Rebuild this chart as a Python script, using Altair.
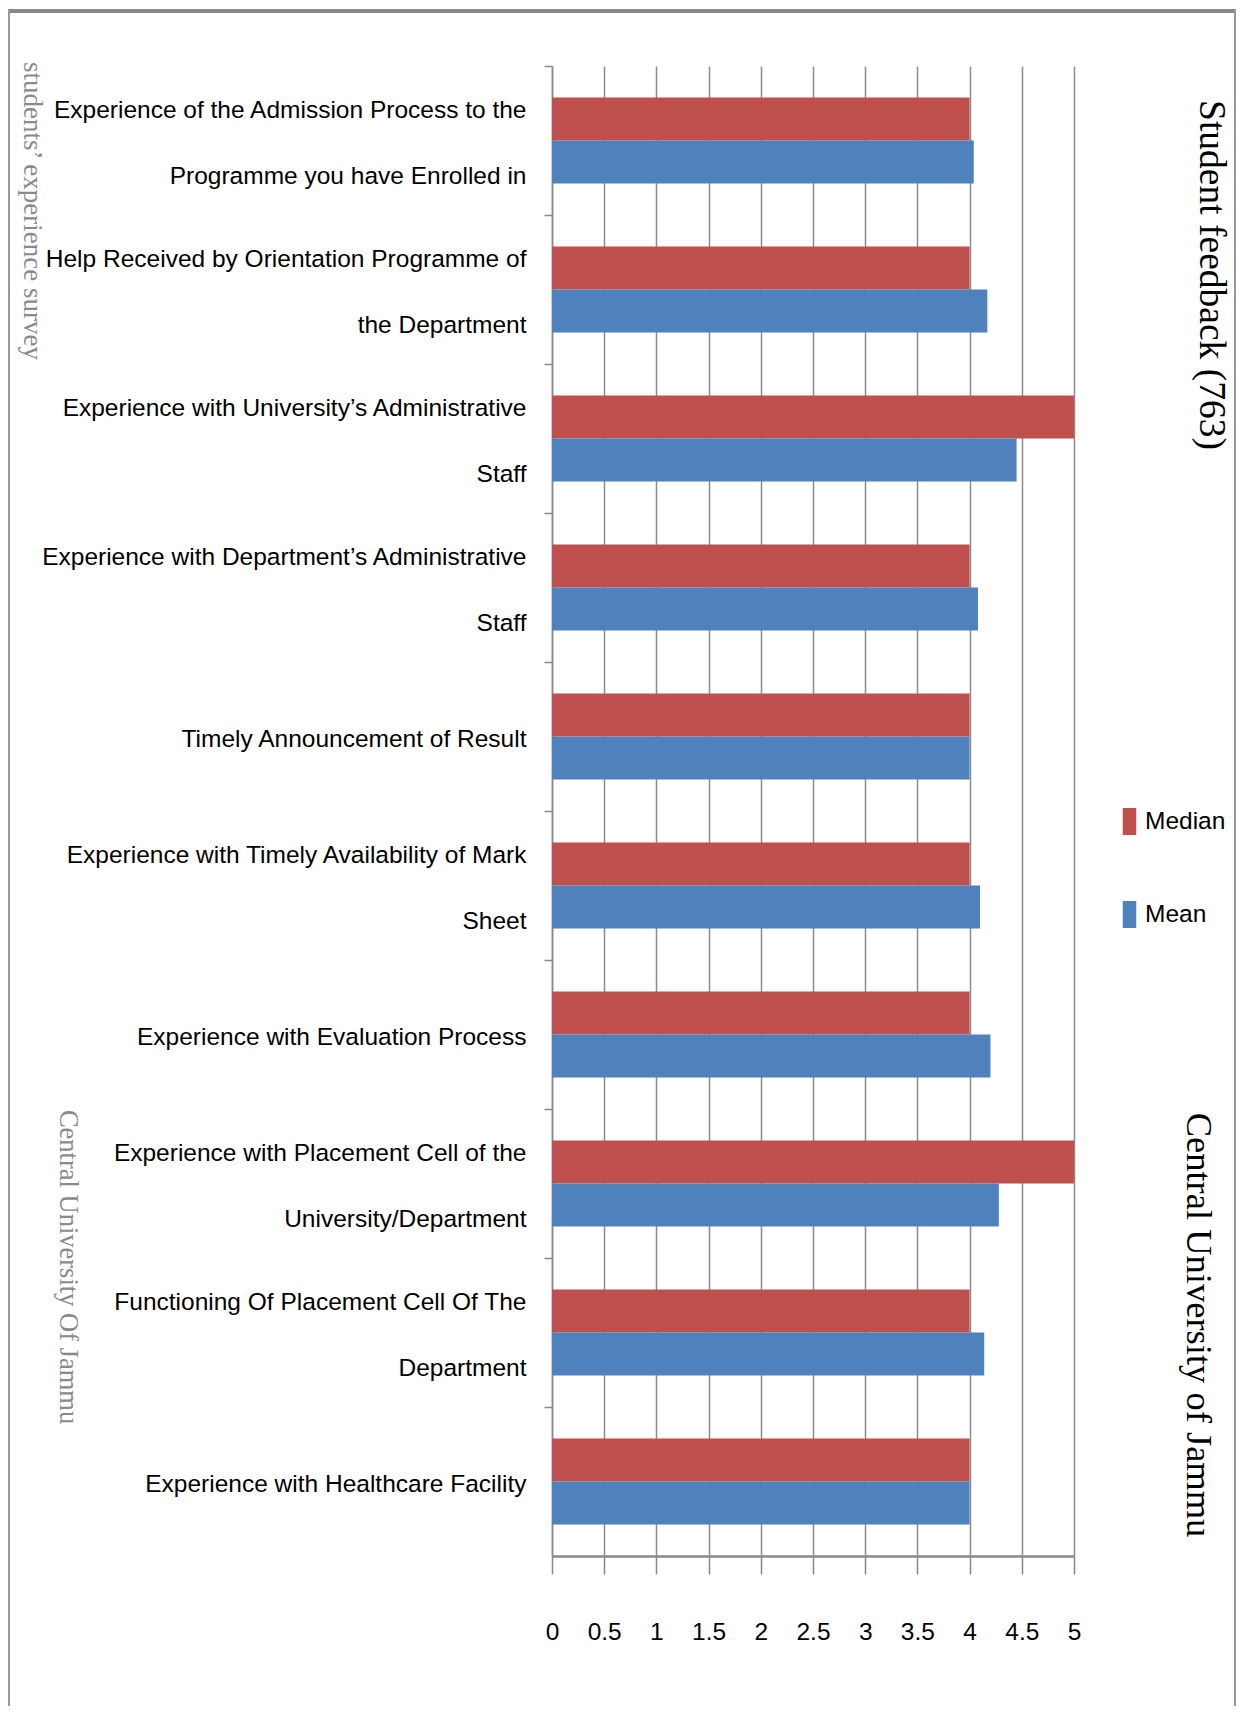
import altair as alt
import pandas as pd

categories = [
    "Experience of the Admission Process to the|Programme you have Enrolled in",
    "Help Received by Orientation Programme of|the Department",
    "Experience with University\u2019s Administrative|Staff",
    "Experience with Department\u2019s Administrative|Staff",
    "Timely Announcement of Result",
    "Experience with Timely Availability of Mark|Sheet",
    "Experience with Evaluation Process",
    "Experience with Placement Cell of the|University/Department",
    "Functioning Of Placement Cell Of The|Department",
    "Experience with Healthcare Facility",
]
median_vals = [4, 4, 5, 4, 4, 4, 4, 5, 4, 4]
mean_vals = [4.04, 4.17, 4.45, 4.08, 4.0, 4.10, 4.20, 4.28, 4.14, 4.0]
series = ["Median", "Mean"]
colors = ["#C0504D", "#4F81BD"]
x_ticks = [0, 0.5, 1, 1.5, 2, 2.5, 3, 3.5, 4, 4.5, 5]

rows = []
for c, md, mn in zip(categories, median_vals, mean_vals):
    rows.append({"category": c, "series": "Median", "value": md})
    rows.append({"category": c, "series": "Mean", "value": mn})
df = pd.DataFrame(rows)

LABEL_FONT = "Liberation Sans"
SERIF = "Liberation Serif"
FS = 24.5
LH = 66

bars = alt.Chart(df).mark_bar(stroke=None).encode(
    y=alt.Y(
        "category:N",
        sort=categories,
        title=None,
        scale=alt.Scale(paddingInner=0, paddingOuter=0),
        axis=alt.Axis(
            labelExpr="split(datum.label, '|')",
            labelFont=LABEL_FONT,
            labelFontSize=FS,
            labelColor="#000000",
            labelLimit=700,
            labelLineHeight=LH,
            labelPadding=18,
            labelAlign="right",
            labelBaseline="middle",
            labelOffset={
                "condition": {"test": "indexof(datum.value, '|') >= 0", "value": -LH / 2 + 3},
                "value": 3,
            },
            tickSize=8,
            tickColor="#888888",
            tickWidth=1.5,
            domainColor="#888888",
            domainWidth=1.5,
            bandPosition=0,
            grid=False,
        ),
    ),
    yOffset=alt.YOffset(
        "series:N",
        sort=series,
        scale=alt.Scale(paddingInner=0, paddingOuter=0.7326),
    ),
    x=alt.X(
        "value:Q",
        title=None,
        scale=alt.Scale(domain=[0, 5], nice=False),
        axis=alt.Axis(
            values=x_ticks,
            format="~g",
            labelFont=LABEL_FONT,
            labelFontSize=FS,
            labelColor="#000000",
            labelPadding=46,
            labelFlush=False,
            tickSize=18,
            tickColor="#888888",
            tickWidth=1.5,
            domainColor="#888888",
            domainWidth=2.5,
            grid=True,
            gridColor="#8c8c8c",
            gridWidth=1.5,
        ),
    ),
    color=alt.Color(
        "series:N",
        sort=series,
        scale=alt.Scale(domain=series, range=colors),
        legend=alt.Legend(
            title=None,
            orient="none",
            legendX=564,
            legendY=742,
            symbolType="M-0.5,-1H0.5V1H-0.5Z",
            symbolSize=729,
            symbolStrokeWidth=0,
            labelFont=LABEL_FONT,
            labelFontSize=FS,
            labelColor="#000000",
            labelOffset=2,
            rowPadding=66,
            padding=0,
        ),
    ),
)

one = alt.Data(values=[{}])


def vtext(txt, x, y, size, color, font):
    return alt.Chart(one).mark_text(
        angle=90, align="center", baseline="middle",
        fontSize=size, font=font, color=color,
    ).encode(x=alt.value(x), y=alt.value(y), text=alt.value(txt))


t1 = vtext("Student feedback (763)", 659, 209, 37.5, "#000000", SERIF)
t2 = vtext("Central University of Jammu", 646, 1259, 36.5, "#000000", SERIF)
t3 = vtext("students\u2019 experience survey", -520, 145, 27, "#8a8a8a", SERIF)
t4 = vtext("Central University Of Jammu", -484, 1201, 26.5, "#8a8a8a", SERIF)

frame_top = alt.Chart(one).mark_rule(color="#888888", strokeWidth=4).encode(
    x=alt.value(-544), x2=alt.value(684), y=alt.value(-55)
)
frame_left = alt.Chart(one).mark_rule(color="#999999", strokeWidth=2).encode(
    x=alt.value(-543), y=alt.value(-57), y2=alt.value(1640)
)
frame_right = alt.Chart(one).mark_rule(color="#999999", strokeWidth=2).encode(
    x=alt.value(683), y=alt.value(-57), y2=alt.value(1640)
)

chart = alt.layer(bars, t1, t2, t3, t4, frame_top, frame_left, frame_right).properties(
    width=522,
    height=1490,
    autosize=alt.AutoSizeParams(type="none"),
    padding={"left": 544, "top": 58, "right": 170, "bottom": 150},
    background="#ffffff",
).configure_view(stroke=None)

chart.save("out.html", embed_options={"renderer": "svg", "actions": False})
